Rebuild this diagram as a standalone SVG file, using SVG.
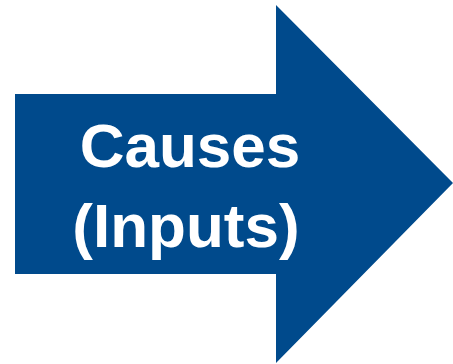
<svg xmlns="http://www.w3.org/2000/svg" width="453" height="364" viewBox="0 0 453 364">
<style>
.lbl{font-family:"Liberation Sans",Arial,sans-serif;font-weight:bold;font-size:62px;fill:#ffffff;text-anchor:middle}
</style>
<rect width="453" height="364" fill="#ffffff"/>
<g id="arrow">
<polygon points="15,94 276,94 276,5 453,183 276,363 276,274 15,274" fill="#004A8C"/>
<text class="lbl" x="190" y="167">Causes</text>
<text class="lbl" x="186" y="247">(Inputs)</text>
</g>
</svg>
